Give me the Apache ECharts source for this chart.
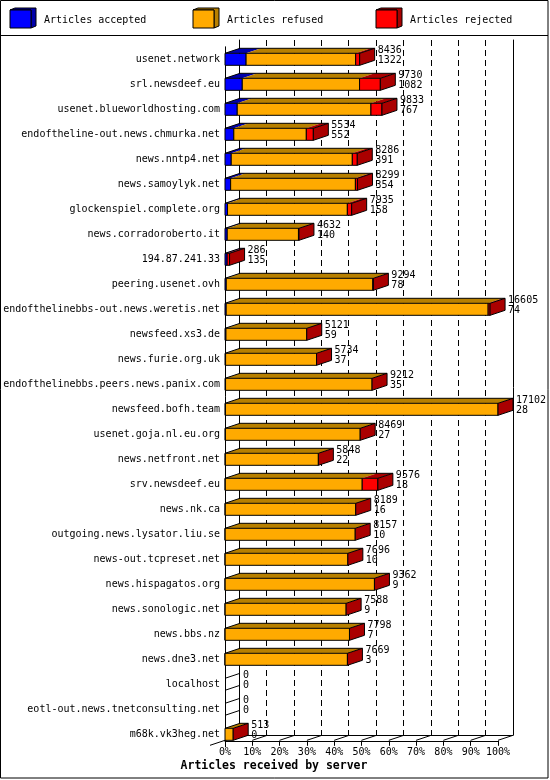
<!DOCTYPE html>
<html>
<head>
<meta charset="utf-8">
<script src="https://cdn.jsdelivr.net/npm/echarts@6/dist/echarts.min.js"></script>
<style>
  html, body { margin: 0; padding: 0; background: #fff; }
  #main { width: 550px; height: 780px; }
</style>
</head>
<body>
<div id="main"></div>
<script>
// servers, top to bottom
const categories = [
  'usenet.network', 'srl.newsdeef.eu', 'usenet.blueworldhosting.com',
  'endoftheline-out.news.chmurka.net', 'news.nntp4.net', 'news.samoylyk.net',
  'glockenspiel.complete.org', 'news.corradoroberto.it', '194.87.241.33',
  'peering.usenet.ovh', 'endofthelinebbs-out.news.weretis.net', 'newsfeed.xs3.de',
  'news.furie.org.uk', 'endofthelinebbs.peers.news.panix.com', 'newsfeed.bofh.team',
  'usenet.goja.nl.eu.org', 'news.netfront.net', 'srv.newsdeef.eu', 'news.nk.ca',
  'outgoing.news.lysator.liu.se', 'news-out.tcpreset.net', 'news.hispagatos.org',
  'news.sonologic.net', 'news.bbs.nz', 'news.dne3.net', 'localhost',
  'eotl-out.news.tnetconsulting.net', 'm68k.vk3heg.net'
];
const accepted = [1322, 1082, 767, 552, 391, 354, 158, 140, 135, 78, 74, 59, 37, 35, 28,
  27, 22, 18, 16, 10, 10, 9, 9, 7, 3, 0, 0, 0];
const refused = [6864, 7348, 8376, 4542, 7585, 7815, 7507, 4462, 0, 9186, 16411, 5062, 5697,
  9177, 17074, 8442, 5826, 8578, 8173, 8147, 7686, 9353, 7579, 7791, 7666, 0, 0, 513];
const rejected = [250, 1300, 690, 440, 310, 130, 270, 30, 151, 30, 120, 0, 0, 0, 0,
  0, 0, 980, 0, 0, 0, 0, 0, 0, 0, 0, 0, 0];
const xTicks = [0, 10, 20, 30, 40, 50, 60, 70, 80, 90, 100];
const seriesNames = ['Articles accepted', 'Articles refused', 'Articles rejected'];

const COLORS = ['#0000ff', '#ffaa00', '#ff0000'];
const DARK = ['#0000aa', '#b88000', '#aa0000'];
const H = 12, DX = 15, DY = 5;
const FONT = '"DejaVu Sans Mono", "Liberation Mono", monospace';

const totals = categories.map((c, i) => accepted[i] + refused[i] + rejected[i]);
const maxTotal = Math.max.apply(null, totals);
const pct = v => v / maxTotal * 100;

const barData = categories.map((c, i) => [i, pct(accepted[i]), pct(refused[i]), pct(rejected[i]), totals[i], accepted[i]]);

const ln = { stroke: '#000', lineWidth: 1, fill: 'none' };

function renderBar(params, api) {
  const i = api.value(0);
  const c = api.coord([0, i]);
  const x0 = c[0], yc = c[1], yt = yc - H / 2, yb = yc + H / 2;
  const xs = [x0];
  let cum = 0;
  for (let k = 0; k < 3; k++) {
    cum += api.value(k + 1);
    xs.push(api.coord([cum, i])[0]);
  }
  const xe = xs[3];
  const kids = [];
  if (xe - x0 < 0.5) {
    kids.push({ type: 'line', shape: { x1: x0, y1: yt, x2: x0 + DX, y2: yt - DY }, style: ln });
    kids.push({ type: 'line', shape: { x1: x0, y1: yb, x2: x0 + DX, y2: yb - DY }, style: ln });
  } else {
    for (let k = 0; k < 3; k++) {
      if (xs[k + 1] - xs[k] < 0.01) continue;
      kids.push({ type: 'polygon', shape: { points: [[xs[k], yt], [xs[k + 1], yt], [xs[k + 1] + DX, yt - DY], [xs[k] + DX, yt - DY]] },
        style: { fill: DARK[k], stroke: 'none' } });
      kids.push({ type: 'rect', shape: { x: xs[k], y: yt, width: xs[k + 1] - xs[k], height: H },
        style: { fill: COLORS[k], stroke: '#000', lineWidth: 1 } });
    }
    kids.push({ type: 'polygon', shape: { points: [[xe, yt], [xe + DX, yt - DY], [xe + DX, yb - DY], [xe, yb]] },
      style: { fill: DARK[2], stroke: '#000', lineWidth: 1 } });
    kids.push({ type: 'polyline', shape: { points: [[x0, yt], [x0 + DX, yt - DY], [xe + DX, yt - DY]] }, style: ln });
  }
  kids.push({ type: 'text', x: xe + DX + 3, y: yc - 3.5,
    style: { text: api.value(4) + '\n' + api.value(5), fill: '#000', fontSize: 10, fontFamily: FONT,
      verticalAlign: 'middle', lineHeight: 10 } });
  return { type: 'group', children: kids };
}

function renderFloor(params, api) {
  const v = api.value(0);
  const c = api.coord([v, categories.length - 1]);
  const y = c[1] + H / 2;
  const kids = [{ type: 'line', shape: { x1: c[0], y1: y, x2: c[0] + DX, y2: y - DY }, style: ln }];
  if (v === 0) kids.push({ type: 'line', shape: { x1: c[0] - DX, y1: y + DY, x2: c[0], y2: y }, style: ln });
  return { type: 'group', children: kids };
}

// legend drawn as 3d boxes
const legendGraphics = [];
seriesNames.forEach((name, k) => {
  const lx = 10 + k * 183, ly = 10, w = 21, h = 18, dx = 5, dy = 2;
  legendGraphics.push({ type: 'polygon', shape: { points: [[lx, ly], [lx + dx, ly - dy], [lx + w + dx, ly - dy], [lx + w + dx, ly + h - dy], [lx + w, ly + h], [lx + w, ly]] },
    style: { fill: DARK[k], stroke: '#000', lineWidth: 1 } });
  legendGraphics.push({ type: 'rect', shape: { x: lx, y: ly, width: w, height: h },
    style: { fill: COLORS[k], stroke: '#000', lineWidth: 1 } });
  legendGraphics.push({ type: 'text', x: lx + 34, y: 20,
    style: { text: name, fill: '#000', fontSize: 10, fontFamily: FONT, verticalAlign: 'middle' } });
});

const chart = echarts.init(document.getElementById('main'));
chart.setOption({
  animation: false,
  backgroundColor: '#fff',
  grid: [
    { left: 225, width: 273, top: 46.8, height: 700 },
    { left: 239, width: 274, top: 40, height: 695 }
  ],
  xAxis: [
    { gridIndex: 0, type: 'value', min: 0, max: 100, interval: 10, offset: -6,
      axisLine: { show: true, lineStyle: { color: '#000', width: 1 } },
      axisTick: { show: true, length: 5, lineStyle: { color: '#000' } },
      axisLabel: { formatter: '{value}%', color: '#000', fontSize: 10, fontFamily: FONT, margin: 7 },
      splitLine: { show: false } },
    { gridIndex: 1, type: 'value', min: 0, max: 100, interval: 10,
      axisLine: { show: true, lineStyle: { color: '#000', width: 1 } },
      axisTick: { show: false }, axisLabel: { show: false },
      splitLine: { show: true, lineStyle: { color: '#000', width: 1, type: [6, 4] } } }
  ],
  yAxis: [
    { gridIndex: 0, type: 'category', data: categories, inverse: true,
      axisLine: { show: true, lineStyle: { color: '#000', width: 1 } },
      axisTick: { show: false },
      axisLabel: { color: '#000', fontSize: 10, fontFamily: FONT, margin: 5 } },
    { gridIndex: 1, type: 'value', min: 0, max: 1, position: 'left',
      axisLine: { show: true, lineStyle: { color: '#000', width: 1 } },
      axisTick: { show: false }, axisLabel: { show: false }, splitLine: { show: false } },
    { gridIndex: 1, type: 'value', min: 0, max: 1, position: 'right',
      axisLine: { show: true, lineStyle: { color: '#000', width: 1 } },
      axisTick: { show: false }, axisLabel: { show: false }, splitLine: { show: false } }
  ],
  series: [
    { type: 'custom', name: 'Articles', xAxisIndex: 0, yAxisIndex: 0, clip: false, z: 5,
      renderItem: renderBar, encode: { x: 1, y: 0 }, data: barData },
    { type: 'custom', name: 'floor', xAxisIndex: 0, yAxisIndex: 0, clip: false, z: 3,
      renderItem: renderFloor, encode: { x: 0 }, data: xTicks.map(v => [v]) }
  ],
  graphic: [
    { type: 'rect', shape: { x: 0.5, y: 0.5, width: 547.5, height: 777.5 },
      style: { fill: 'none', stroke: '#000', lineWidth: 1 }, z: 10 },
    { type: 'line', shape: { x1: 0, y1: 35.5, x2: 548, y2: 35.5 }, style: { stroke: '#000', lineWidth: 1 }, z: 10 },
    { type: 'text', x: 274, y: 766,
      style: { text: 'Articles received by server', fill: '#000', fontSize: 11.5, fontWeight: 'bold',
        fontFamily: FONT, align: 'center', verticalAlign: 'middle' } },
    ...legendGraphics
  ]
});
</script>
</body>
</html>
